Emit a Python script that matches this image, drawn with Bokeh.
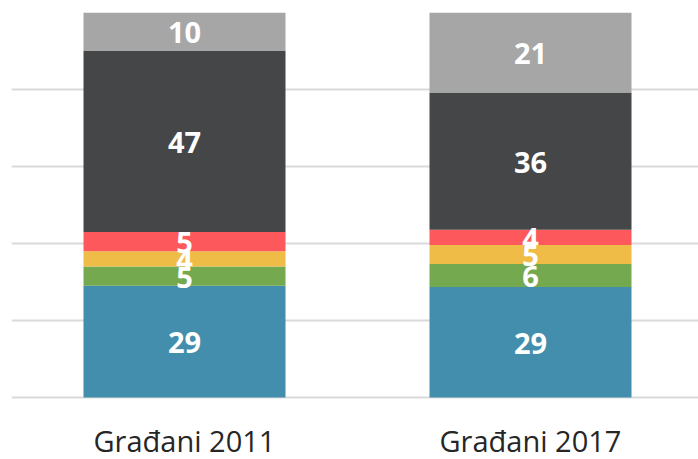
from bokeh.plotting import figure
from bokeh.models import Range1d, FixedTicker, ColumnDataSource, LabelSet
from bokeh.core.properties import value
from bokeh.embed import file_html
from bokeh.resources import INLINE

categories = ["Građani 2011", "Građani 2017"]
blue = [29, 29]
green = [5, 6]
yellow = [4, 5]
red = [5, 4]
dark = [47, 36]
grey = [10, 21]
series = [blue, green, yellow, red, dark, grey]
colors = ["#428eac", "#75a94f", "#f0bc48", "#fd585c", "#454648", "#a6a6a6"]
y_ticks = [0, 20, 40, 60, 80, 100]

W, H = 698, 459
left_px, top_px, frame_px = 11, 12, 385
bottom_px = H - top_px - frame_px
cat_px = 346

p = figure(width=W, height=H, output_backend="svg", toolbar_location=None,
           x_range=Range1d(-0.5, -0.5 + (W - left_px) / cat_px),
           y_range=Range1d(-100 * bottom_px / frame_px, 100),
           min_border_left=left_px, min_border_right=0, min_border_top=top_px,
           min_border_bottom=0)
p.outline_line_color = None
p.xaxis.visible = False
p.yaxis.visible = False
p.xgrid.visible = False
p.ygrid.ticker = FixedTicker(ticks=y_ticks)
p.ygrid.grid_line_color = "#dadada"
p.ygrid.grid_line_width = 2
p.background_fill_color = "white"
p.border_fill_color = "white"

xs = list(range(len(categories)))
totals = [sum(s[i] for s in series) for i in xs]
bottoms = [0.0] * len(xs)
lx, ly, lt = [], [], []
for s, c in zip(series, colors):
    shares = [s[i] * 100.0 / totals[i] for i in xs]
    tops = [bottoms[i] + shares[i] for i in xs]
    p.vbar(x=xs, width=202 / cat_px, bottom=bottoms, top=tops, fill_color=c,
           line_color=None)
    for i in xs:
        lx.append(xs[i])
        ly.append((bottoms[i] + tops[i]) / 2)
        lt.append(str(s[i]))
    bottoms = tops

lsrc = ColumnDataSource(dict(x=lx, y=ly, t=lt))
p.add_layout(LabelSet(x="x", y="y", text="t", source=lsrc, text_color="white",
                      text_font=value("Open Sans"), text_font_style="bold",
                      text_font_size="29px", text_align="center",
                      text_baseline="middle", y_offset=-1))

csrc = ColumnDataSource(dict(x=xs, y=[0] * len(xs), t=categories))
p.add_layout(LabelSet(x="x", y="y", text="t", source=csrc, text_color="#262626",
                      text_font=value("Open Sans"), text_font_size="29px",
                      text_align="center", text_baseline="alphabetic",
                      y_offset=-54))

open("out.html", "w").write(file_html(p, INLINE))
